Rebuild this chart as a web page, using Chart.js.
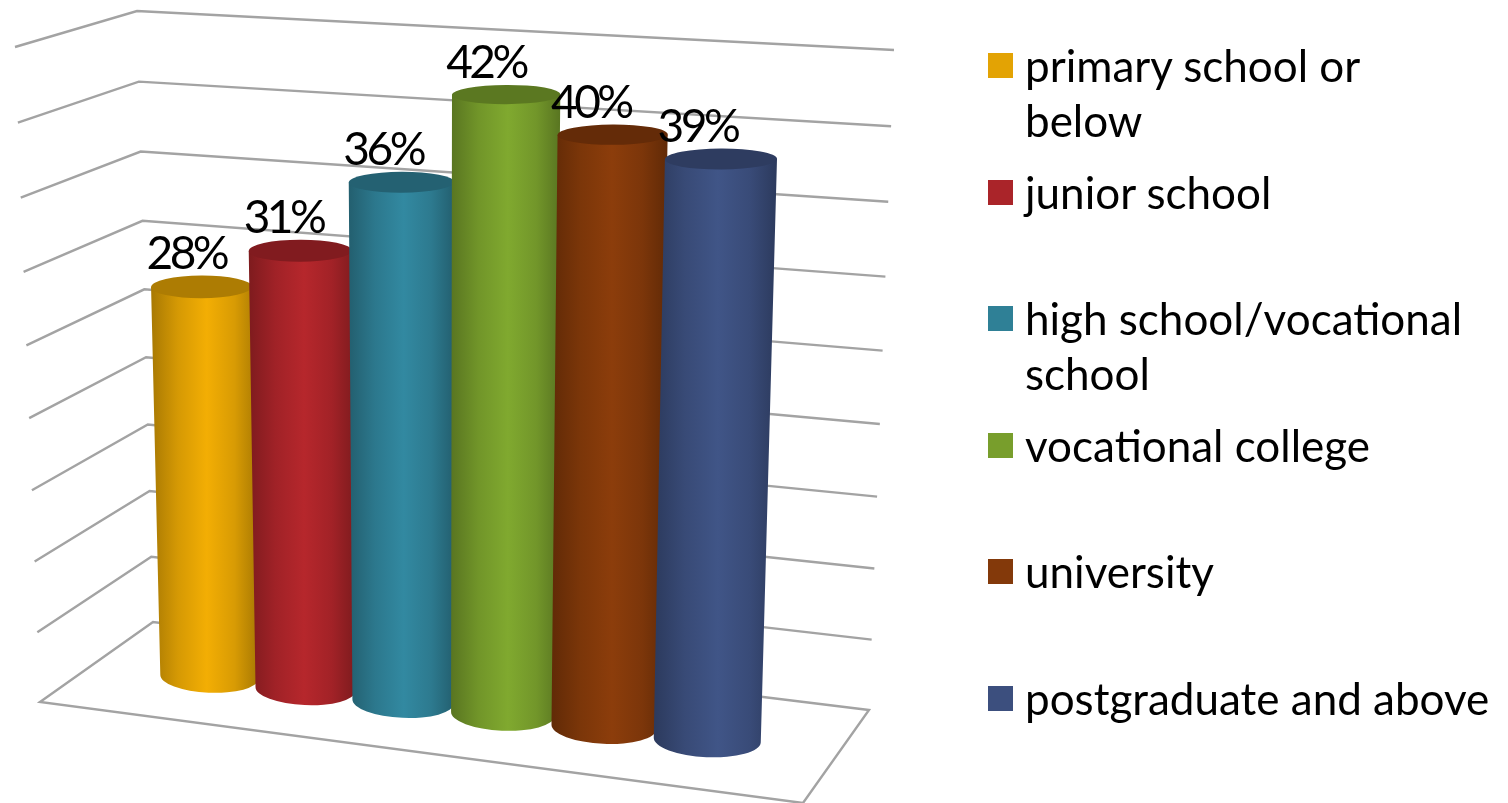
<!DOCTYPE html>
<html>
<head>
<meta charset="utf-8">
<title>Education level</title>
<script src="https://cdn.jsdelivr.net/npm/chart.js@4"></script>
<style>
    html, body { margin: 0; padding: 0; background: #fff; }
    #wrap { position: relative; width: 1508px; height: 803px; overflow: hidden; }
    #legend { position: absolute; left: 0; top: 0; font-family: Lato, sans-serif; font-size: 44px; line-height: 55px; color: #000; }
    .item { position: absolute; left: 1025px; white-space: pre; }
    .swatch { position: absolute; left: 988px; width: 25px; height: 25px; }
</style>
</head>
<body>
<div id="wrap">
    <canvas id="chart" width="1508" height="803"></canvas>
    <div id="legend"></div>
</div>
<script>
    const categories = ['primary school or\nbelow', 'junior school', 'high school/vocational\nschool', 'vocational college', 'university', 'postgraduate and above'];
    const percents = [28, 31, 36, 42, 40, 39];
    const colours = ['#E3A304', '#AA2429', '#2F8096', '#789E2C', '#83390A', '#3C4F7E'];
    const maxPercent = 45;
    const stepPercent = 5;

    // corners of the 3d box, floor first then top
    const leftFront = [[40, 702], [15, 47]];
    const leftBack = [[153, 622], [137, 11]];
    const backRight = [[869, 710], [894, 50]];
    const floorFront = [803, 803];
    // plane through the bar centres: first bar base, last bar base, last bar top, first bar top
    const barPlane = [[209, 677], [707, 740], [723, 60], [196, 25]];

    function shade(hex, k) {
        const n = parseInt(hex.slice(1), 16);
        const c = [n >> 16, (n >> 8) & 255, n & 255].map(v => Math.min(255, Math.round(v * k)));
        return `rgb(${c[0]},${c[1]},${c[2]})`;
    }

    // unit square to quad, Heckbert
    function makeHomography(q) {
        const [x0, y0] = q[0], [x1, y1] = q[1], [x2, y2] = q[2], [x3, y3] = q[3];
        const dx1 = x1 - x2, dx2 = x3 - x2, sx = x0 - x1 + x2 - x3;
        const dy1 = y1 - y2, dy2 = y3 - y2, sy = y0 - y1 + y2 - y3;
        const den = dx1 * dy2 - dx2 * dy1;
        const g = (sx * dy2 - dx2 * sy) / den;
        const h = (dx1 * sy - sx * dy1) / den;
        const a = x1 - x0 + g * x1, b = x3 - x0 + h * x3;
        const d = y1 - y0 + g * y1, e = y3 - y0 + h * y3;
        return (u, v) => {
            const w = g * u + h * v + 1;
            return [(a * u + b * v + x0) / w, (d * u + e * v + y0) / w];
        };
    }
    const planeMap = makeHomography(barPlane);

    // the floor sits further from the camera, so lower levels are a little squeezed
    function warp(f) {
        return f * (0.955 + 0.045 * f);
    }
    function levelOf(chart, py) {
        const s = chart.scales.y;
        const y0 = s.getPixelForValue(0), yMax = s.getPixelForValue(maxPercent);
        return warp((y0 - py) / (y0 - yMax));
    }
    function project(chart, px, py) {
        const bars = chart.getDatasetMeta(0).data;
        const u = (px - bars[0].x) / (bars[bars.length - 1].x - bars[0].x);
        return planeMap(u, levelOf(chart, py));
    }
    function along(edge, f) {
        return [edge[0][0] + (edge[1][0] - edge[0][0]) * f, edge[0][1] + (edge[1][1] - edge[0][1]) * f];
    }

    const box3d = {
        id: 'box3d',
        beforeDatasetsDraw(chart) {
            const ctx = chart.ctx;
            ctx.save();
            ctx.strokeStyle = '#A3A3A3';
            ctx.lineWidth = 2.4;
            ctx.lineJoin = 'miter';
            chart.scales.y.ticks.forEach(t => {
                const f = levelOf(chart, chart.scales.y.getPixelForValue(t.value));
                const a = along(leftFront, f), b = along(leftBack, f), c = along(backRight, f);
                ctx.beginPath();
                ctx.moveTo(a[0], a[1]);
                ctx.lineTo(b[0], b[1]);
                ctx.lineTo(c[0], c[1]);
                if (t.value === 0) {
                    ctx.lineTo(floorFront[0], floorFront[1]);
                    ctx.lineTo(a[0], a[1]);
                    ctx.closePath();
                }
                ctx.stroke();
            });
            ctx.restore();
        },
        afterDatasetsDraw(chart) {
            const ctx = chart.ctx;
            const bars = chart.getDatasetMeta(0).data;
            const tops = [];
            ctx.save();
            bars.forEach((bar, i) => {
                const half = bar.width / 2;
                const pl0 = project(chart, bar.x - half, bar.base), pr0 = project(chart, bar.x + half, bar.base);
                const pl1 = project(chart, bar.x - half, bar.y), pr1 = project(chart, bar.x + half, bar.y);
                const w0 = Math.hypot(pr0[0] - pl0[0], pr0[1] - pl0[1]), w1 = Math.hypot(pr1[0] - pl1[0], pr1[1] - pl1[1]);
                const c0 = [(pl0[0] + pr0[0]) / 2, (pl0[1] + pr0[1]) / 2], c1 = [(pl1[0] + pr1[0]) / 2, (pl1[1] + pr1[1]) / 2];
                // ends of a cylinder stay nearly level, only the base leans a little
                const rot0 = 0.045, rot1 = -0.005;
                const ry0 = w0 * 0.16;
                const ry1 = w1 * (0.16 - percents[i] * 0.0017);
                const l0 = [c0[0] - Math.cos(rot0) * w0 / 2, c0[1] - Math.sin(rot0) * w0 / 2];
                const r1 = [c1[0] + Math.cos(rot1) * w1 / 2, c1[1] + Math.sin(rot1) * w1 / 2];
                const l1 = [c1[0] - Math.cos(rot1) * w1 / 2, c1[1] - Math.sin(rot1) * w1 / 2];

                const grad = ctx.createLinearGradient(Math.min(l0[0], l1[0]), 0, Math.max(c0[0] + w0 / 2, r1[0]), 0);
                grad.addColorStop(0, shade(colours[i], 0.74));
                grad.addColorStop(0.25, shade(colours[i], 0.94));
                grad.addColorStop(0.52, shade(colours[i], 1.07));
                grad.addColorStop(0.78, shade(colours[i], 0.95));
                grad.addColorStop(1, shade(colours[i], 0.74));

                ctx.beginPath();
                ctx.moveTo(l1[0], l1[1]);
                ctx.lineTo(l0[0], l0[1]);
                ctx.ellipse(c0[0], c0[1], w0 / 2, ry0, rot0, Math.PI, 0, true);
                ctx.lineTo(r1[0], r1[1]);
                ctx.closePath();
                ctx.fillStyle = grad;
                ctx.fill();

                ctx.beginPath();
                ctx.ellipse(c1[0], c1[1], w1 / 2, ry1, rot1, 0, Math.PI * 2);
                ctx.fillStyle = shade(colours[i], 0.76);
                ctx.fill();

                tops.push({ x: c1[0] - (0.15 + 0.012 * i) * w1, y: c1[1] - ry1 - 7 });
            });
            ctx.fillStyle = '#000';
            ctx.font = '46px Lato, sans-serif';
            ctx.letterSpacing = '-3.5px';
            ctx.textAlign = 'center';
            ctx.textBaseline = 'alphabetic';
            tops.forEach((p, i) => ctx.fillText(percents[i] + '%', p.x, p.y));
            ctx.restore();
        }
    };

    new Chart(document.getElementById('chart'), {
        type: 'bar',
        data: {
            labels: categories,
            datasets: [{
                data: percents,
                backgroundColor: 'transparent',
                barPercentage: 1.02,
                categoryPercentage: 1
            }]
        },
        options: {
            responsive: false,
            animation: false,
            layout: { padding: 0 },
            plugins: { legend: { display: false }, tooltip: { enabled: false } },
            scales: {
                x: { display: false },
                y: { display: false, min: 0, max: maxPercent, ticks: { stepSize: stepPercent } }
            }
        },
        plugins: [box3d]
    });

    // legend
    const legend = document.getElementById('legend');
    categories.forEach((name, i) => {
        const pitch = 126.6;
        const swatch = document.createElement('div');
        swatch.className = 'swatch';
        swatch.style.top = (53 + i * pitch) + 'px';
        swatch.style.background = colours[i];
        legend.appendChild(swatch);
        const item = document.createElement('div');
        item.className = 'item';
        item.style.top = (38 + i * pitch) + 'px';
        item.textContent = name;
        legend.appendChild(item);
    });
</script>
</body>
</html>
